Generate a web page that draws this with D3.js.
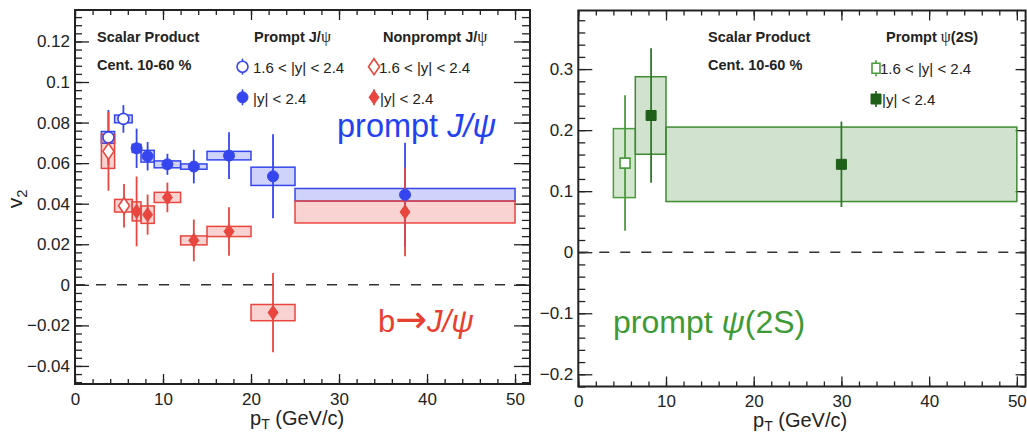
<!DOCTYPE html>
<html><head><meta charset="utf-8">
<script src="https://cdn.jsdelivr.net/npm/d3@7"></script>
<style>
body{margin:0;background:#fff}
svg{display:block}
text{font-family:"Liberation Sans",Arial,Helvetica,sans-serif;fill:#222}
</style>
</head><body><svg id="c" width="1027" height="434"></svg>
<script>
// ---------------- data ----------------
// Left panel: prompt J/psi, 1.6<|y|<2.4
const pjFwdPt   = [3.8, 5.5];
const pjFwdV    = [0.0727, 0.0818];
const pjFwdStat = [0.0135, 0.0068];
const pjFwdSys  = [0.0029, 0.0019];
const pjFwdLo   = [3.0, 4.5];
const pjFwdHi   = [4.5, 6.5];
// prompt J/psi, |y|<2.4
const pjMidPt   = [7.0, 8.25, 10.5, 13.5, 17.5, 22.5, 37.5];
const pjMidV    = [0.0673, 0.0634, 0.0594, 0.0583, 0.0637, 0.0535, 0.0444];
const pjMidStat = [0.0097, 0.0070, 0.0052, 0.0083, 0.0115, 0.0207, 0.0256];
const pjMidSys  = [0.0020, 0.0029, 0.0017, 0.0013, 0.0021, 0.0045, 0.0031];
const midLo     = [6.5, 7.5, 9, 12, 15, 20, 25];
const midHi     = [7.5, 9, 12, 15, 20, 25, 50];
// nonprompt J/psi, 1.6<|y|<2.4
const npFwdPt   = [3.8, 5.57];
const npFwdV    = [0.0658, 0.0390];
const npFwdStat = [0.0194, 0.0107];
const npFwdSys  = [0.0084, 0.0031];
// nonprompt J/psi, |y|<2.4
const npMidPt   = [7.0, 8.25, 10.5, 13.5, 17.5, 22.5, 37.5];
const npMidV    = [0.0362, 0.0346, 0.0431, 0.0219, 0.0263, -0.0137, 0.0359];
const npMidStat = [0.0172, 0.0099, 0.0073, 0.0103, 0.0120, 0.0195, 0.0218];
const npMidSys  = [0.0047, 0.0043, 0.0025, 0.0022, 0.0025, 0.0040, 0.0054];
// Right panel: prompt psi(2S)
const psFwdPt   = [5.33];
const psFwdV    = [0.146];
const psFwdStat = [0.111];
const psFwdSys  = [0.0565];
const psFwdLo   = [4.0];
const psFwdHi   = [6.5];
const psMidPt   = [8.3, 30.0];
const psMidV    = [0.224, 0.144];
const psMidStat = [0.110, 0.070];
const psMidSys  = [0.0635, 0.061];
const psMidLo   = [6.5, 10];
const psMidHi   = [10, 50];
// ticks
const leftYTicks  = [-0.04, -0.02, 0, 0.02, 0.04, 0.06, 0.08, 0.1, 0.12];
const rightYTicks = [-0.2, -0.1, 0, 0.1, 0.2, 0.3];
const xTicks      = [0, 10, 20, 30, 40, 50];

// ---------------- layout ----------------
const svg = d3.select("#c");
const L = {x0:75, x1:530, y0:10, y1:384};
const R = {x0:578.3, x1:1025.6, y0:10.5, y1:386.5};
const xL = d3.scaleLinear().domain([0, 51.7]).range([L.x0, L.x1]);
const yL = d3.scaleLinear().domain([-0.0489, 0.1355]).range([L.y1, L.y0]);
const xR = d3.scaleLinear().domain([0, 51.0]).range([R.x0, R.x1]);
const yR = d3.scaleLinear().domain([-0.22, 0.396]).range([R.y1, R.y0]);

const BLUE="#3546ee", RED="#e8463e", GREEN="#4a9c3c", DGREEN="#1f5f1a";
const fmt = d => d === 0 ? "0" : String(+d.toFixed(3)).replace("-", "\u2212");
const minors = (s, step) => { const d=s.domain(); return d3.range(Math.ceil(d[0]/step-1e-6), Math.floor(d[1]/step+1e-6)+1).map(i=>+(i*step).toFixed(4)); };

function axes(x, y, P, yMaj, yStep, yMajLen, rMajLen, xLabPad) {
  const g = svg.append("g");
  const style = s => { s.select(".domain").remove(); s.selectAll("line").attr("stroke","#222").attr("stroke-width",1.3); s.selectAll("text").style("font-size","17px").attr("fill","#222"); };
  const yMin = minors(y, yStep), xMin = minors(x, 2).filter(v=>v<=50);
  g.append("g").attr("transform",`translate(${P.x0},0)`).call(d3.axisLeft(y).tickValues(yMaj).tickSizeInner(-yMajLen).tickSizeOuter(0).tickPadding(5).tickFormat(fmt)).call(style);
  g.append("g").attr("transform",`translate(${P.x0},0)`).call(d3.axisLeft(y).tickValues(yMin).tickSizeInner(-yMajLen/2).tickSizeOuter(0).tickFormat("")).call(style);
  g.append("g").attr("transform",`translate(${P.x1},0)`).call(d3.axisRight(y).tickValues(yMaj).tickSizeInner(-rMajLen).tickSizeOuter(0).tickFormat("")).call(style);
  g.append("g").attr("transform",`translate(${P.x1},0)`).call(d3.axisRight(y).tickValues(yMin).tickSizeInner(-rMajLen/2).tickSizeOuter(0).tickFormat("")).call(style);
  g.append("g").attr("transform",`translate(0,${P.y1})`).call(d3.axisBottom(x).tickValues(xTicks).tickSizeInner(-10).tickSizeOuter(0).tickPadding(xLabPad).tickFormat(d3.format("d"))).call(style);
  g.append("g").attr("transform",`translate(0,${P.y1})`).call(d3.axisBottom(x).tickValues(xMin).tickSizeInner(-5).tickSizeOuter(0).tickFormat("")).call(style);
  g.append("g").attr("transform",`translate(0,${P.y0})`).call(d3.axisTop(x).tickValues(xTicks).tickSizeInner(-10).tickSizeOuter(0).tickFormat("")).call(style);
  g.append("g").attr("transform",`translate(0,${P.y0})`).call(d3.axisTop(x).tickValues(xMin).tickSizeInner(-5).tickSizeOuter(0).tickFormat("")).call(style);
  // zero line
  g.append("line").attr("x1",P.x0).attr("x2",P.x1).attr("y1",y(0)).attr("y2",y(0))
    .attr("stroke","#333").attr("stroke-width",1.6).attr("stroke-dasharray","10,11");
  // frame
  g.append("rect").attr("x",P.x0).attr("y",P.y0).attr("width",P.x1-P.x0).attr("height",P.y1-P.y0)
    .attr("fill","none").attr("stroke","#222").attr("stroke-width",2);
}

function boxes(x, y, lo, hi, v, sys, color) {
  svg.append("g").selectAll("rect").data(v).join("rect")
    .attr("x",(d,i)=>x(lo[i])).attr("width",(d,i)=>x(hi[i])-x(lo[i]))
    .attr("y",(d,i)=>y(d+sys[i])).attr("height",(d,i)=>y(d-sys[i])-y(d+sys[i]))
    .attr("fill",color).attr("fill-opacity",0.24).attr("stroke",color).attr("stroke-width",1.5);
}
function errs(x, y, pt, v, stat, color) {
  svg.append("g").selectAll("line").data(v).join("line")
    .attr("x1",(d,i)=>x(pt[i])).attr("x2",(d,i)=>x(pt[i]))
    .attr("y1",(d,i)=>y(d-stat[i])).attr("y2",(d,i)=>y(d+stat[i]))
    .attr("stroke",color).attr("stroke-width",1.8);
}
const diamond = (hw,hh) => `M0,${-hh}L${hw},0L0,${hh}L${-hw},0Z`;
function marks(x, y, pt, v, kind, color, open) {
  const g = svg.append("g");
  const sel = g.selectAll("path").data(v).join("path")
    .attr("transform",(d,i)=>`translate(${x(pt[i])},${y(d)})`)
    .attr("fill", open ? "#fff" : color).attr("stroke", color).attr("stroke-width", open?1.6:1);
  if (kind==="circle") sel.attr("d", d3.symbol(d3.symbolCircle, 95)());
  else if (kind==="diamond") sel.attr("d", open ? diamond(5.5,8) : diamond(5,7));
  else sel.attr("d", "M-5,-5H5V5H-5Z");
}

// ---------------- left panel ----------------
axes(xL, yL, L, leftYTicks, 0.004, 14, 16, 9);
boxes(xL, yL, pjFwdLo, pjFwdHi, pjFwdV, pjFwdSys, BLUE);
boxes(xL, yL, midLo, midHi, pjMidV, pjMidSys, BLUE);
boxes(xL, yL, pjFwdLo, pjFwdHi, npFwdV, npFwdSys, RED);
boxes(xL, yL, midLo, midHi, npMidV, npMidSys, RED);
errs(xL, yL, pjFwdPt, pjFwdV, pjFwdStat, BLUE);
errs(xL, yL, pjMidPt, pjMidV, pjMidStat, BLUE);
errs(xL, yL, npFwdPt, npFwdV, npFwdStat, RED);
errs(xL, yL, npMidPt, npMidV, npMidStat, RED);
marks(xL, yL, pjFwdPt, pjFwdV, "circle", BLUE, true);
marks(xL, yL, pjMidPt, pjMidV, "circle", BLUE, false);
marks(xL, yL, npFwdPt, npFwdV, "diamond", RED, true);
marks(xL, yL, npMidPt, npMidV, "diamond", RED, false);

// ---------------- right panel ----------------
axes(xR, yR, R, rightYTicks, 0.02, 14, 10, 8);
boxes(xR, yR, psFwdLo, psFwdHi, psFwdV, psFwdSys, GREEN);
boxes(xR, yR, psMidLo, psMidHi, psMidV, psMidSys, "#3f8a33");
errs(xR, yR, psFwdPt, psFwdV, psFwdStat, GREEN);
errs(xR, yR, psMidPt, psMidV, psMidStat, "#2f7a28");
marks(xR, yR, psFwdPt, psFwdV, "square", GREEN, true);
marks(xR, yR, psMidPt, psMidV, "square", DGREEN, false);

// ---------------- texts / legends ----------------
function txt(x, y, parts, size, opts={}) {
  const t = svg.append("text").attr("x",x).attr("y",y).style("font-size",size+"px");
  if (opts.anchor) t.attr("text-anchor",opts.anchor);
  if (opts.fill) t.style("fill",opts.fill);
  if (opts.weight) t.style("font-weight",opts.weight);
  if (opts.transform) t.attr("transform",opts.transform);
  parts.forEach(p => {
    const s = t.append("tspan").text(p.t);
    if (p.serif) s.style("font-family","'Liberation Serif','DejaVu Serif',serif").style("font-weight","normal");
    if (p.dv) s.style("font-family","'DejaVu Sans',sans-serif");
    if (p.it) s.style("font-style","italic");
    if (p.sub) s.attr("baseline-shift","-30%").style("font-size",(size*0.7)+"px");
    if (p.size) s.style("font-size",p.size+"px");
  });
  return t;
}
// left
txt(97, 42, [{t:"Scalar Product"}], 14.5, {weight:"bold"});
txt(97, 70, [{t:"Cent. 10-60 %"}], 14.5, {weight:"bold"});
txt(254, 42, [{t:"Prompt J/"},{t:"\u03c8",serif:true,size:16}], 14.5, {weight:"bold"});
txt(383, 42, [{t:"Nonprompt J/"},{t:"\u03c8",serif:true,size:16}], 14.5, {weight:"bold"});
txt(253, 72.5, [{t:"1.6 < |y| < 2.4"}], 15);
txt(253, 103.5, [{t:"|y| < 2.4"}], 15);
txt(379, 72.5, [{t:"1.6 < |y| < 2.4"}], 15);
txt(380, 103.5, [{t:"|y| < 2.4"}], 15);
// legend markers
function legMark(cx, cy, kind, color, open) {
  svg.append("line").attr("x1",cx).attr("x2",cx).attr("y1",cy-8).attr("y2",cy+8).attr("stroke",color).attr("stroke-width",1.6);
  const p = svg.append("path").attr("transform",`translate(${cx},${cy})`)
    .attr("fill", open?"#fff":color).attr("stroke",color).attr("stroke-width",open?1.6:1);
  if (kind==="circle") p.attr("d", d3.symbol(d3.symbolCircle, 95)());
  else if (kind==="diamond") p.attr("d", open ? diamond(5.5,8) : diamond(5,7));
  else p.attr("d", open ? "M-4,-5H4V5H-4Z" : "M-5,-5H5V5H-5Z");
}
legMark(242.5, 66.7, "circle", BLUE, true);
legMark(242.5, 97.3, "circle", BLUE, false);
legMark(374, 66.7, "diamond", RED, true);
legMark(374, 97.3, "diamond", RED, false);
txt(337, 137, [{t:"prompt "},{t:"J/\u03c8",it:true}], 32.5, {fill:"#2242f0"});
txt(378, 332, [{t:"b"},{t:"\u2192",dv:true,size:38},{t:"J/\u03c8",it:true}], 31, {fill:"#e8402e"});
// right
txt(708, 42, [{t:"Scalar Product"}], 14.5, {weight:"bold"});
txt(708, 69.5, [{t:"Cent. 10-60 %"}], 14.5, {weight:"bold"});
txt(886, 42, [{t:"Prompt  "},{t:"\u03c8",serif:true,size:16},{t:"(2S)"}], 14.5, {weight:"bold"});
legMark(876, 68.3, "square", GREEN, true);
legMark(876, 99, "square", DGREEN, false);
txt(880, 73.5, [{t:"1.6 < |y| < 2.4"}], 15);
txt(882, 104.5, [{t:"|y| < 2.4"}], 15);
txt(613, 333, [{t:"prompt "},{t:"\u03c8",it:true},{t:"(2S)"}], 32, {fill:"#3d9a35"});

// axis titles
txt(0, 0, [{t:"v"},{t:"2",sub:true}], 21, {anchor:"middle", transform:"translate(22,199) rotate(-90)"});
txt(250, 425, [{t:"p"},{t:"T",sub:true},{t:" (GeV/c)"}], 20);
txt(753, 427, [{t:"p"},{t:"T",sub:true},{t:" (GeV/c)"}], 20);
</script></body></html>
